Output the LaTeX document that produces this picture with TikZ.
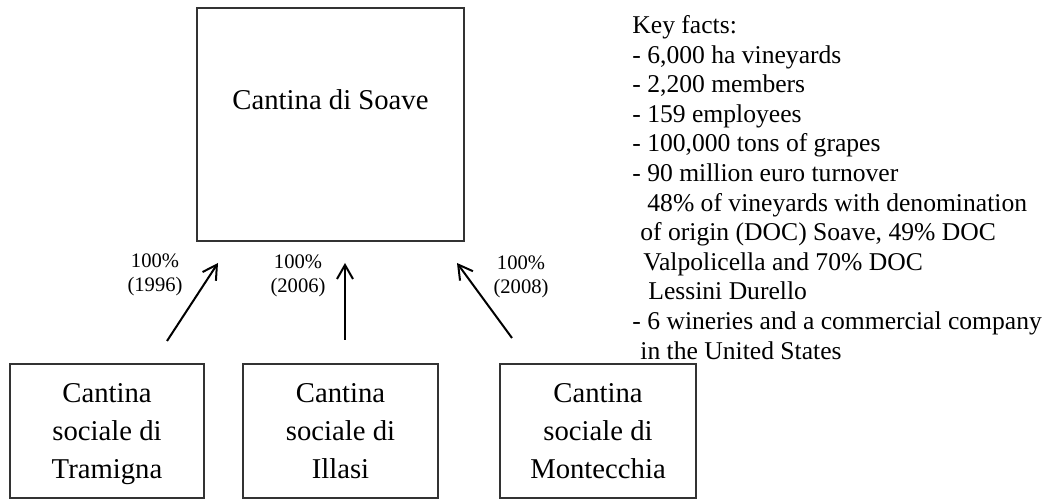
\documentclass[tikz,border=0pt]{standalone}
\usepackage{fontspec}
\setmainfont{Liberation Serif}
\usetikzlibrary{arrows.meta}

\begin{document}
\begin{tikzpicture}[x=0.5pt, y=-0.5pt,
    firm/.style={draw=black!80, line width=0.8pt, align=center,
      font={\fontsize{14.35}{19}\selectfont}},
    coop/.style={firm, minimum height=67pt, text depth=-1.5pt},
    share/.style={align=center, font={\fontsize{10.3}{12}\selectfont}},
    facts/.style={align=left, inner sep=0pt, font={\fontsize{12.8}{14.8}\selectfont}},
    owns/.style={line width=1pt, -{Straight Barb[length=7pt,width=8pt]}}]
  \useasboundingbox (0,0) rectangle (1046,501);

  % holding company
  \node[firm, minimum width=133.5pt, minimum height=116.5pt,
        text height=10pt, text depth=25pt] (soave) at (330.5,124.5) {Cantina di Soave};

  % merged cooperatives
  \node[coop, minimum width=97pt] (tramigna) at (107,431) {Cantina\\sociale di\\Tramigna};
  \node[coop, minimum width=97.5pt] (illasi) at (340.5,431) {Cantina\\sociale di\\Illasi};
  \node[coop, minimum width=98pt] (montecchia) at (598,431) {Cantina\\sociale di\\Montecchia};

  % shares
  \node[share] (p1) at (155,275) {100\%\\(1996)};
  \node[share] (p2) at (298,276) {100\%\\(2006)};
  \node[share] (p3) at (521,277) {100\%\\(2008)};

  \coordinate (t1) at (167,341); \coordinate (h1) at (218,263);
  \coordinate (t2) at (345,340); \coordinate (h2) at (345,263);
  \coordinate (t3) at (512,338); \coordinate (h3) at (457,263);
  \foreach \a/\b in {t1/h1, t2/h2, t3/h3}
    \draw[owns] (\a) -- (\b);

  % key facts
  \node[facts, anchor=north west] (keyfacts) at (632,15) {Key facts:\\
    - 6,000 ha vineyards\\
    - 2,200 members\\
    - 159 employees\\
    - 100,000 tons of grapes\\
    - 90 million euro turnover\\
    \hspace*{7.5pt}48\% of vineyards with denomination\\
    \hspace*{4pt}of origin (DOC) Soave, 49\% DOC\\
    \hspace*{5.5pt}Valpolicella and 70\% DOC\\
    \hspace*{8pt}Lessini Durello\\
    - 6 wineries and a commercial company\\
    \hspace*{4pt}in the United States};
\end{tikzpicture}
\end{document}
